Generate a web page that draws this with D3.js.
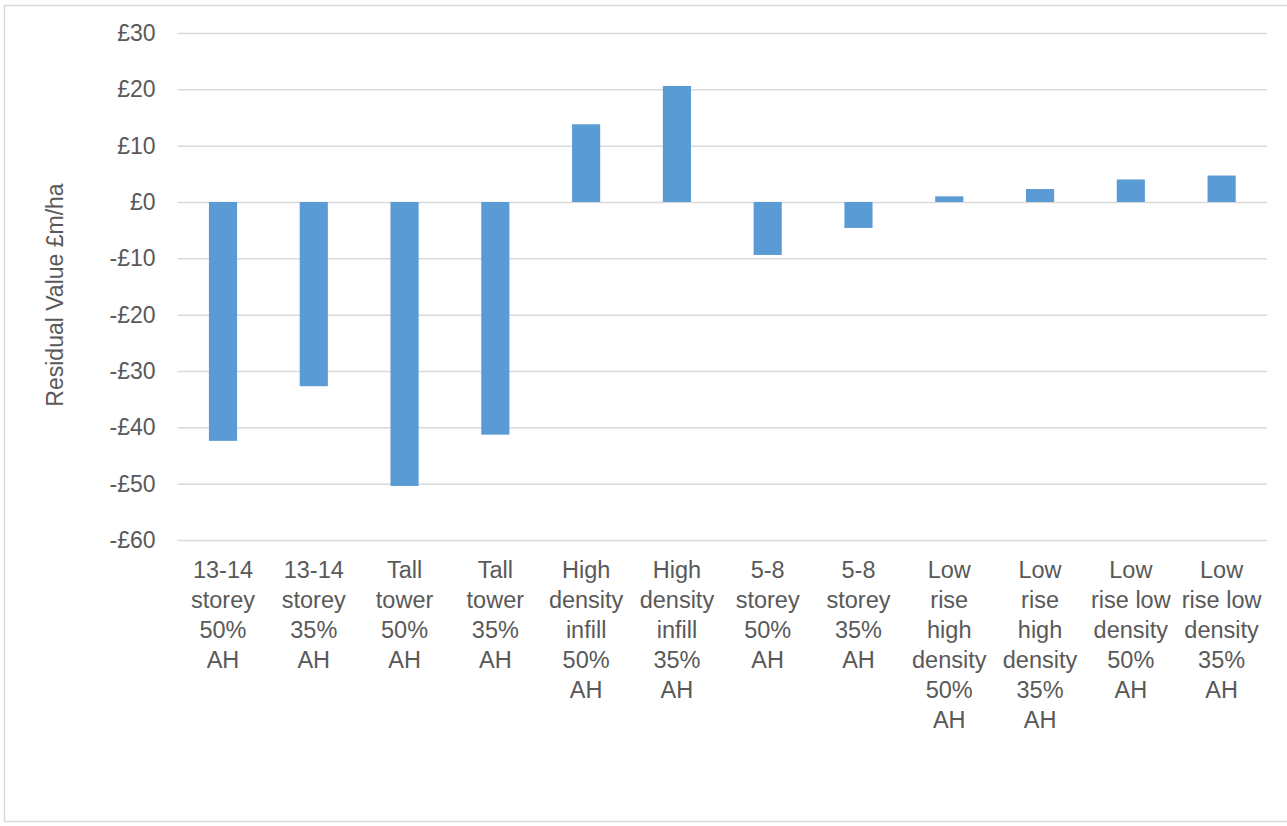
<!DOCTYPE html>
<html>
<head>
<meta charset="utf-8">
<script src="https://cdn.jsdelivr.net/npm/d3@7"></script>
<style>
  html, body { margin: 0; padding: 0; background: #ffffff; }
  svg { display: block; }
</style>
</head>
<body>
<svg id="chart" width="1287" height="826"></svg>
<script>
const categories = [
  "13-14 storey 50% AH", "13-14 storey 35% AH", "Tall tower 50% AH", "Tall tower 35% AH",
  "High density infill 50% AH", "High density infill 35% AH", "5-8 storey 50% AH", "5-8 storey 35% AH",
  "Low rise high density 50% AH", "Low rise high density 35% AH",
  "Low rise low density 50% AH", "Low rise low density 35% AH"
];
const categoryLines = [
  ["13-14", "storey", "50%", "AH"],
  ["13-14", "storey", "35%", "AH"],
  ["Tall", "tower", "50%", "AH"],
  ["Tall", "tower", "35%", "AH"],
  ["High", "density", "infill", "50%", "AH"],
  ["High", "density", "infill", "35%", "AH"],
  ["5-8", "storey", "50%", "AH"],
  ["5-8", "storey", "35%", "AH"],
  ["Low", "rise", "high", "density", "50%", "AH"],
  ["Low", "rise", "high", "density", "35%", "AH"],
  ["Low", "rise low", "density", "50%", "AH"],
  ["Low", "rise low", "density", "35%", "AH"]
];
const values = [-42.4, -32.7, -50.4, -41.3, 13.8, 20.6, -9.4, -4.6, 1.0, 2.3, 4.0, 4.7];
const yTicks = [30, 20, 10, 0, -10, -20, -30, -40, -50, -60];
const yTitle = "Residual Value £m/ha";

(function () {
const svg = d3.select("#chart");
const W = 1287;
const pLeft = 177.6, pRight = 1267, pTop = 33, pBottom = 540;
const font = "'Liberation Sans', Arial, sans-serif";

// outer border
svg.append("rect")
  .attr("x", 4.5).attr("y", 5.5)
  .attr("width", W + 10).attr("height", 816)
  .attr("fill", "#ffffff")
  .attr("stroke", "#d9d9d9").attr("stroke-width", 1.5);

const x = d3.scaleBand().domain(categories).range([pLeft, pRight]).paddingInner(0.69).paddingOuter(0.345);
const y = d3.scaleLinear().domain([-60, 30]).range([pBottom, pTop]);

// gridlines + tick labels
const yAxis = d3.axisLeft(y).tickValues(yTicks).tickSize(-(pRight - pLeft))
  .tickFormat(d => (d < 0 ? "-£" + Math.abs(d) : "£" + d));
const gy = svg.append("g").attr("transform", `translate(${pLeft},0)`).call(yAxis);
gy.select(".domain").remove();
gy.selectAll(".tick line").attr("stroke", "#d9d9d9").attr("stroke-width", 1.5);
gy.selectAll(".tick text")
  .attr("x", -22)
  .attr("fill", "#595959")
  .style("font-family", font)
  .style("font-size", "23px");

// bars
svg.append("g").selectAll("rect").data(values).join("rect")
  .attr("x", (d, i) => x(categories[i]))
  .attr("width", x.bandwidth())
  .attr("y", d => y(Math.max(0, d)))
  .attr("height", d => Math.abs(y(d) - y(0)))
  .attr("fill", "#5b9bd5");

// category labels
const lab = svg.append("g")
  .style("font-family", font)
  .style("font-size", "23.5px")
  .attr("fill", "#595959");
categoryLines.forEach((lines, i) => {
  const cx = x(categories[i]) + x.bandwidth() / 2;
  const t = lab.append("text").attr("text-anchor", "middle");
  lines.forEach((ln, j) => {
    t.append("tspan").attr("x", cx).attr("y", 578 + j * 30).text(ln);
  });
});

// y-axis title
svg.append("text")
  .attr("transform", `translate(63,295) rotate(-90)`)
  .attr("text-anchor", "middle")
  .attr("fill", "#595959")
  .style("font-family", font)
  .style("font-size", "23px")
  .text(yTitle);
})();
</script>
</body>
</html>
